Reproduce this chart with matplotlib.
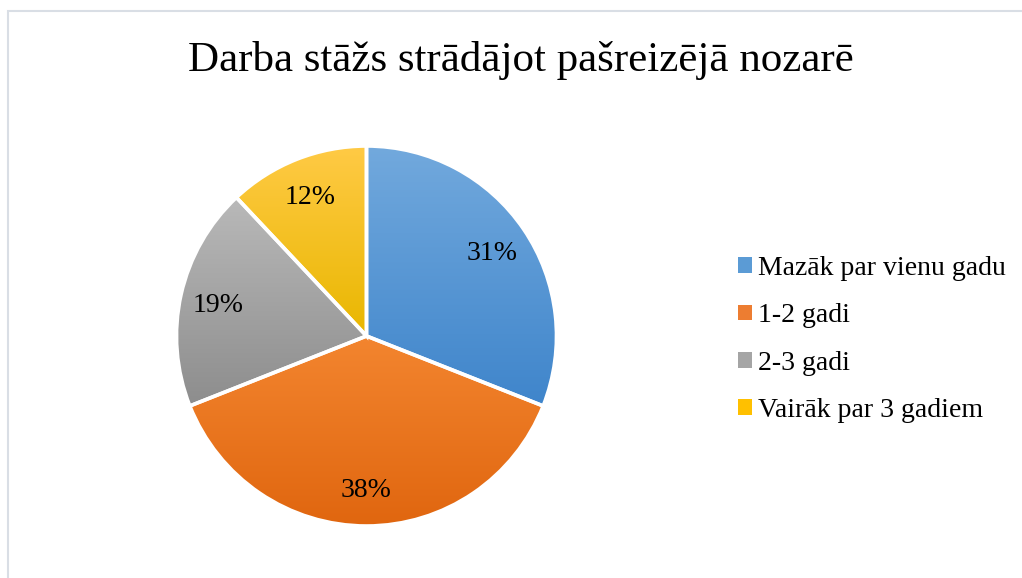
import numpy as np
import matplotlib
matplotlib.use("Agg")
import matplotlib.pyplot as plt
from matplotlib.colors import LinearSegmentedColormap
from matplotlib.patches import Patch, Rectangle

plt.rcParams['font.family'] = ['Liberation Serif', 'DejaVu Serif']

# Data
title = "Darba stāžs strādājot pašreizējā nozarē"
categories = ["Mazāk par vienu gadu", "1-2 gadi", "2-3 gadi", "Vairāk par 3 gadiem"]
shares = [31, 38, 19, 12]

# gradient colours per slice (top, bottom) and legend colour
grad_top = ["#72a9dd", "#f3852f", "#b9b9b9", "#ffca45"]
grad_bottom = ["#3f85cb", "#e0660f", "#8d8d8d", "#e9b700"]
legend_colors = ["#5b9bd5", "#ed7d31", "#a5a5a5", "#ffc000"]

W, H = 1022, 578
fig = plt.figure(figsize=(W / 100, H / 100), dpi=100)

# light chart border (top and left visible)
fig.add_artist(Rectangle((8 / W, -0.1), 1.2, (H - 11) / H + 0.1,
                         transform=fig.transFigure, fill=False,
                         edgecolor="#d9dee5", lw=1.5))

fig.text(521 / W, 1 - 60 / H, title, ha="center", va="center", fontsize=31)

# pie axes: center (366.5, 336), radius 190 px
cx, cy, r = 366.5, 336, 190
ax = fig.add_axes([(cx - r) / W, 1 - (cy + r) / H, 2 * r / W, 2 * r / H])
wedges, texts, autotexts = ax.pie(
    shares, startangle=90, counterclock=False, radius=1,
    autopct="%.0f%%", pctdistance=0.8,
    wedgeprops=dict(facecolor="none", edgecolor="white", linewidth=2.6, zorder=3),
    textprops=dict(fontsize=20, color="black", zorder=4))
for t in autotexts:
    t.set_va("center_baseline")
ax.set_aspect("equal")
ax.axis("off")

for w, ct, cb in zip(wedges, grad_top, grad_bottom):
    ext = w.get_path().get_extents()
    cmap = LinearSegmentedColormap.from_list("g", [cb, ct])
    grad = np.linspace(0, 1, 256).reshape(-1, 1)
    im = ax.imshow(grad, cmap=cmap, origin="lower", aspect="auto",
                   extent=[ext.x0, ext.x1, ext.y0, ext.y1], zorder=2,
                   interpolation="bilinear")
    im.set_clip_path(w)
ax.set_xlim(-1, 1)
ax.set_ylim(-1, 1)

handles = [Patch(facecolor=c, edgecolor="none") for c in legend_colors]
fig.legend(handles, categories, loc="center left",
           bbox_to_anchor=(738 / W, 1 - 339.5 / H), frameon=False,
           fontsize=20, handlelength=0.5, handleheight=0.5,
           handletextpad=0.22, labelspacing=0.8, borderpad=0,
           borderaxespad=0)

fig.savefig("out.png", dpi=100)
